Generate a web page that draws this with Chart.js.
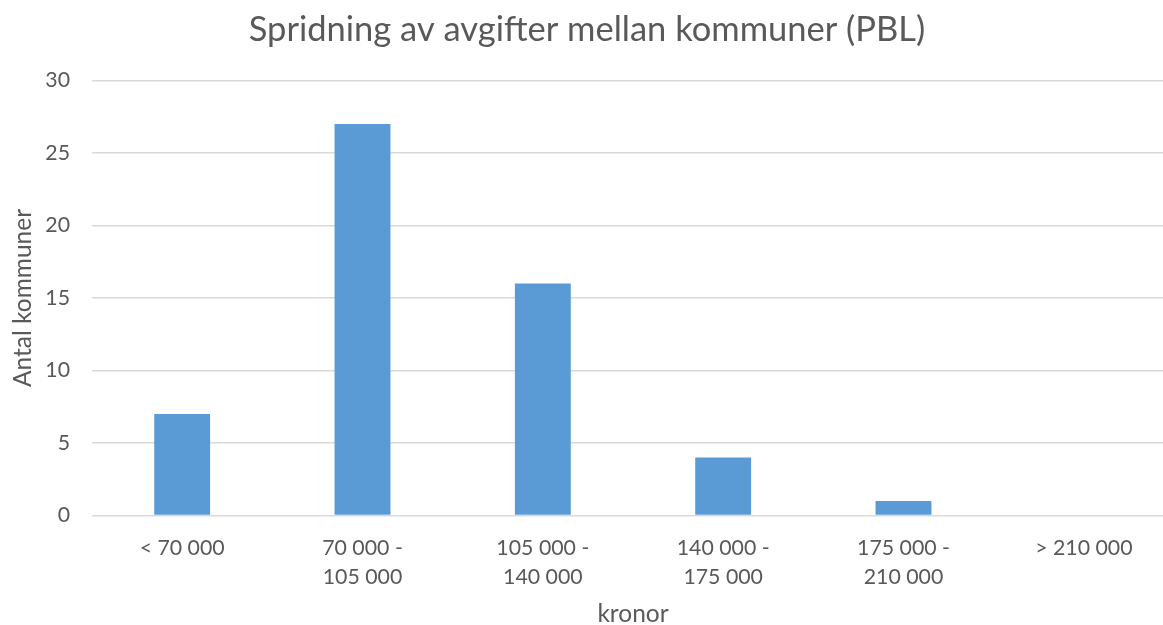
<!DOCTYPE html>
<html>
<head>
<meta charset="utf-8">
<script src="https://cdn.jsdelivr.net/npm/chart.js@4"></script>
<style>
  html, body { margin: 0; padding: 0; background: #fff; overflow: hidden; }
  /* plot area runs a little past the right edge, like the original */
  #wrap { width: 1174px; height: 625px; }
</style>
</head>
<body>
<div id="wrap"><canvas id="barChart" width="1174" height="625"></canvas></div>
<script>
// kategorier (kronor) och antal kommuner
var categories = [
  ['< 70 000'],
  ['70 000 -', '105 000'],
  ['105 000 -', '140 000'],
  ['140 000 -', '175 000'],
  ['175 000 -', '210 000'],
  ['> 210 000']
];
var antal = [7, 27, 16, 4, 1, 0];

var textColor = '#595959';
Chart.defaults.font.family = 'Lato, "Open Sans", sans-serif';

var ctx = document.getElementById('barChart').getContext('2d');
var barChart = new Chart(ctx, {
  type: 'bar',
  data: {
    labels: categories,
    datasets: [{
      label: 'Antal kommuner',
      data: antal,
      backgroundColor: '#5B9BD5',
      borderWidth: 0,
      categoryPercentage: 1,
      barPercentage: 0.31
    }]
  },
  options: {
    responsive: false,
    animation: false,
    plugins: {
      legend: { display: false },
      tooltip: { enabled: false },
      title: {
        display: true,
        text: 'Spridning av avgifter mellan kommuner (PBL)',
        color: textColor,
        font: { size: 34.5, weight: 'normal' },
        padding: { top: 9, bottom: 30 }
      }
    },
    scales: {
      x: {
        grid: { display: false },
        border: { display: false },
        ticks: {
          color: textColor,
          font: { size: 21.3, lineHeight: 1.32 },
          padding: 11,
          maxRotation: 0,
          autoSkip: false
        },
        title: {
          display: true,
          text: 'kronor',
          color: textColor,
          font: { size: 24.5 },
          padding: { top: 0, bottom: -4 }
        },
        afterFit: function (scale) { scale.height = 109.5; }
      },
      y: {
        min: 0,
        max: 30,
        grid: { color: '#D9D9D9', lineWidth: 1.5, drawTicks: false },
        border: { display: false },
        ticks: {
          stepSize: 5,
          color: textColor,
          font: { size: 21.3 },
          padding: 22
        },
        title: {
          display: true,
          text: 'Antal kommuner',
          color: textColor,
          font: { size: 24.5 },
          padding: { top: 8, bottom: 0 }
        },
        afterFit: function (scale) { scale.width = 92; }
      }
    }
  }
});
</script>
</body>
</html>
